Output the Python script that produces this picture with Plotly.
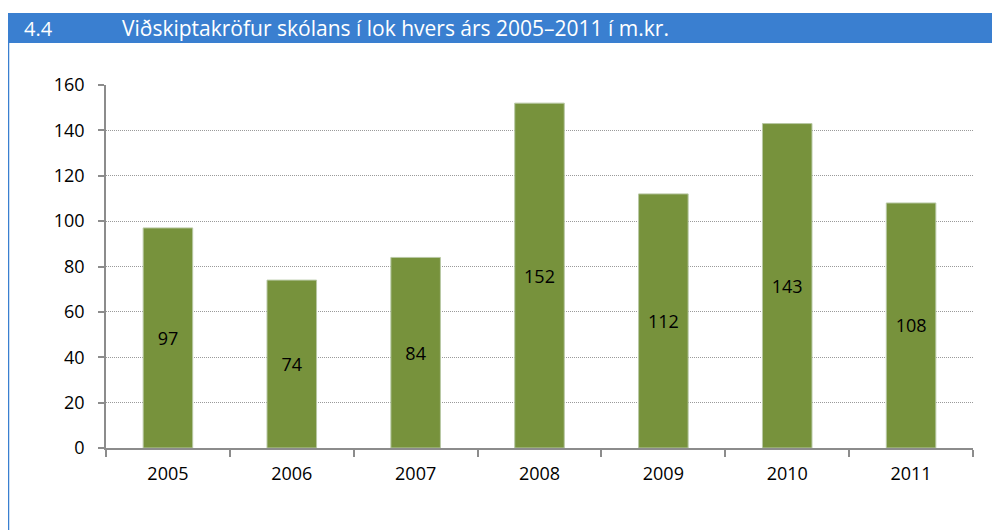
import plotly.graph_objects as go

years = ["2005", "2006", "2007", "2008", "2009", "2010", "2011"]
values = [97, 74, 84, 152, 112, 143, 108]
y_ticks = [0, 20, 40, 60, 80, 100, 120, 140, 160]
header_num = "4.4"
header_title = "Viðskiptakröfur skólans í lok hvers árs 2005–2011 í m.kr."

FONT = "Open Sans, Noto Sans, sans-serif"
BLUE = "#3a7fd0"

# page body has an 8px margin, so the figure is drawn at (8, 8)
W, H = 992, 522
L, R, T, B = 98, 27, 77, 82
PW = W - L - R
PH = H - T - B


def px_x(p):
    return (p - L) / PW


def px_y(p):
    return 1 - (p - T) / PH


fig = go.Figure(go.Bar(
    x=years, y=values,
    text=[str(v) for v in values],
    textposition="inside", insidetextanchor="middle",
    textfont=dict(family=FONT, size=18, color="#000000"),
    marker=dict(color="#77923c", line=dict(color="#b8c8a4", width=1)),
    hoverinfo="skip",
))

fig.update_layout(
    width=W, height=H,
    margin=dict(l=L, r=R, t=T, b=B),
    paper_bgcolor="white", plot_bgcolor="white",
    bargap=0.6, showlegend=False,
    font=dict(family=FONT, size=18, color="#000000"),
    shapes=[
        dict(type="rect", xref="paper", yref="paper", x0=px_x(-2), x1=px_x(W + 2),
             y0=px_y(35), y1=px_y(5), fillcolor=BLUE, line=dict(width=0), layer="above"),
        dict(type="line", xref="paper", yref="paper", x0=px_x(0), x1=px_x(0),
             y0=px_y(H + 2), y1=px_y(35), line=dict(color=BLUE, width=2.5)),
    ],
    annotations=[
        dict(text=header_num, xref="paper", yref="paper", x=px_x(14), y=px_y(20),
             xanchor="left", yanchor="middle", showarrow=False,
             font=dict(family=FONT, size=20, color="white")),
        dict(text=header_title, xref="paper", yref="paper", x=px_x(112), y=px_y(20),
             xanchor="left", yanchor="middle", showarrow=False,
             font=dict(family=FONT, size=21, color="white")),
    ],
)

fig.update_xaxes(
    type="category", showline=True, linecolor="#8c8c8c", linewidth=1.5,
    ticks="outside", tickson="boundaries", ticklen=7, tickcolor="#8c8c8c", tickwidth=1.5,
    showgrid=False, ticklabelstandoff=9,
    tickfont=dict(family=FONT, size=18, color="#000000"),
)
fig.update_yaxes(
    range=[0, 160], tickvals=y_ticks, showline=True, linecolor="#8c8c8c", linewidth=1.5,
    ticks="outside", ticklen=6, tickcolor="#8c8c8c", tickwidth=1.5,
    showgrid=True, gridcolor="#9a9a9a", griddash="1px,1px", gridwidth=1,
    zeroline=False, ticklabelstandoff=10,
    tickfont=dict(family=FONT, size=18, color="#000000"),
)

fig.write_html("out.html")
